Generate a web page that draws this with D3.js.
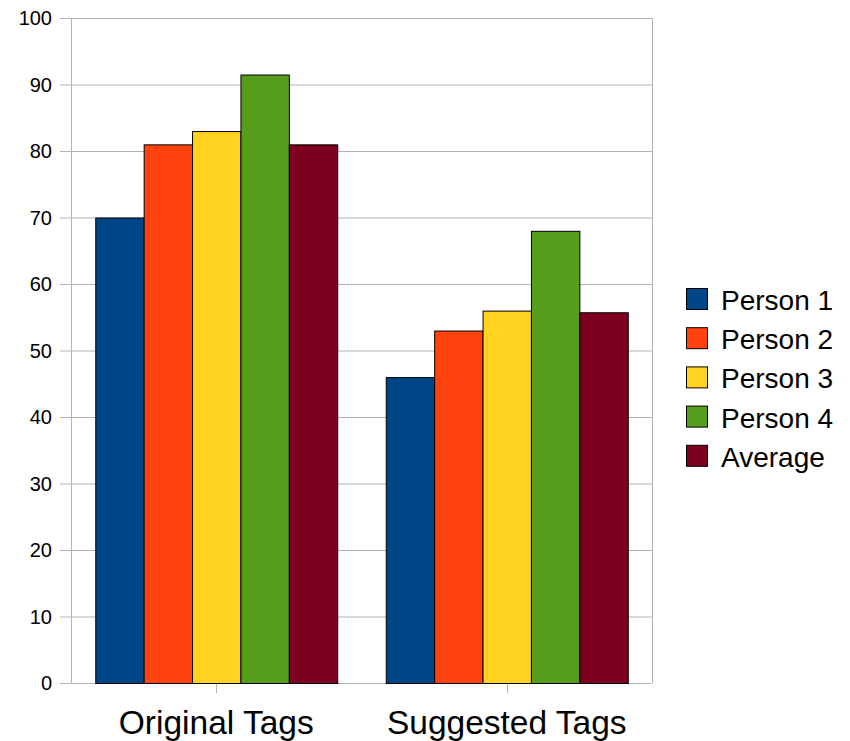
<!DOCTYPE html>
<html>
<head>
<meta charset="utf-8">
<script src="https://cdn.jsdelivr.net/npm/d3@7"></script>
<style>
  html, body { margin: 0; padding: 0; background: #fff; }
  svg { display: block; font-family: "Liberation Sans", Arial, sans-serif; }
</style>
</head>
<body>
<svg id="chart" width="850" height="741"></svg>
<script>
// Chart data
const categories = ["Original Tags", "Suggested Tags"];
const seriesNames = ["Person 1", "Person 2", "Person 3", "Person 4", "Average"];
const seriesColors = ["#004586", "#ff420e", "#ffd320", "#579d1c", "#7e0021"];
const person1 = [70, 46];
const person2 = [81, 53];
const person3 = [83, 56];
const person4 = [91.5, 68];
const average = [81, 55.75];
const yTicks = [0, 10, 20, 30, 40, 50, 60, 70, 80, 90, 100];

const seriesValues = [person1, person2, person3, person4, average];

const svg = d3.select("#chart");
const plot = { left: 71, right: 652, top: 18, bottom: 683 };

const x0 = d3.scaleBand()
  .domain(categories)
  .range([plot.left, plot.right])
  .paddingInner(0.167)
  .paddingOuter(0.0835);

const x1 = d3.scaleBand()
  .domain(seriesNames)
  .range([0, x0.bandwidth()])
  .padding(0);

const y = d3.scaleLinear().domain([0, 100]).range([plot.bottom, plot.top]);

const grid = "#b3b3b3";

// Horizontal gridlines with short ticks to the left
svg.append("g")
  .selectAll("line")
  .data(yTicks)
  .join("line")
  .attr("x1", plot.left - 11)
  .attr("x2", plot.right)
  .attr("y1", d => y(d) + 0.5)
  .attr("y2", d => y(d) + 0.5)
  .attr("stroke", grid)
  .attr("stroke-width", 1);

// Y tick labels
svg.append("g")
  .selectAll("text")
  .data(yTicks)
  .join("text")
  .attr("x", plot.left - 19)
  .attr("y", d => y(d))
  .attr("dy", "0.36em")
  .attr("text-anchor", "end")
  .attr("font-size", 20)
  .attr("fill", "#000")
  .text(d => d);

// Plot frame sides
svg.append("line")
  .attr("x1", plot.left + 0.5).attr("x2", plot.left + 0.5)
  .attr("y1", plot.top).attr("y2", plot.bottom)
  .attr("stroke", grid);
svg.append("line")
  .attr("x1", plot.right + 0.5).attr("x2", plot.right + 0.5)
  .attr("y1", plot.top).attr("y2", plot.bottom)
  .attr("stroke", grid);

// Category ticks below the axis
svg.append("g")
  .selectAll("line")
  .data(categories)
  .join("line")
  .attr("x1", d => Math.round(x0(d) + x0.bandwidth() / 2) + 0.5)
  .attr("x2", d => Math.round(x0(d) + x0.bandwidth() / 2) + 0.5)
  .attr("y1", plot.bottom)
  .attr("y2", plot.bottom + 10)
  .attr("stroke", grid);

// Bars
const groups = svg.append("g")
  .selectAll("g")
  .data(categories)
  .join("g")
  .attr("transform", d => `translate(${x0(d)},0)`);

groups.selectAll("rect")
  .data((c, ci) => seriesNames.map((s, si) => ({ s, si, v: seriesValues[si][ci] })))
  .join("rect")
  .attr("x", d => x1(d.s) + 0.5)
  .attr("y", d => y(d.v) + 0.5)
  .attr("width", x1.bandwidth())
  .attr("height", d => y(0) - y(d.v))
  .attr("fill", d => seriesColors[d.si])
  .attr("stroke", "#000")
  .attr("stroke-width", 1);

// Category labels
svg.append("g")
  .selectAll("text")
  .data(categories)
  .join("text")
  .attr("x", d => x0(d) + x0.bandwidth() / 2)
  .attr("y", 734)
  .attr("text-anchor", "middle")
  .attr("font-size", 33.5)
  .attr("fill", "#000")
  .text(d => d);

// Legend
const legend = svg.append("g")
  .selectAll("g")
  .data(seriesNames)
  .join("g")
  .attr("transform", (d, i) => `translate(686, ${288 + i * 39.2})`);

legend.append("rect")
  .attr("x", 0.5).attr("y", 0.5)
  .attr("width", 21).attr("height", 21)
  .attr("fill", (d, i) => seriesColors[i])
  .attr("stroke", "#000")
  .attr("stroke-width", 1);

legend.append("text")
  .attr("x", 35)
  .attr("y", 22)
  .attr("font-size", 28)
  .attr("fill", "#000")
  .text(d => d);
</script>
</body>
</html>
